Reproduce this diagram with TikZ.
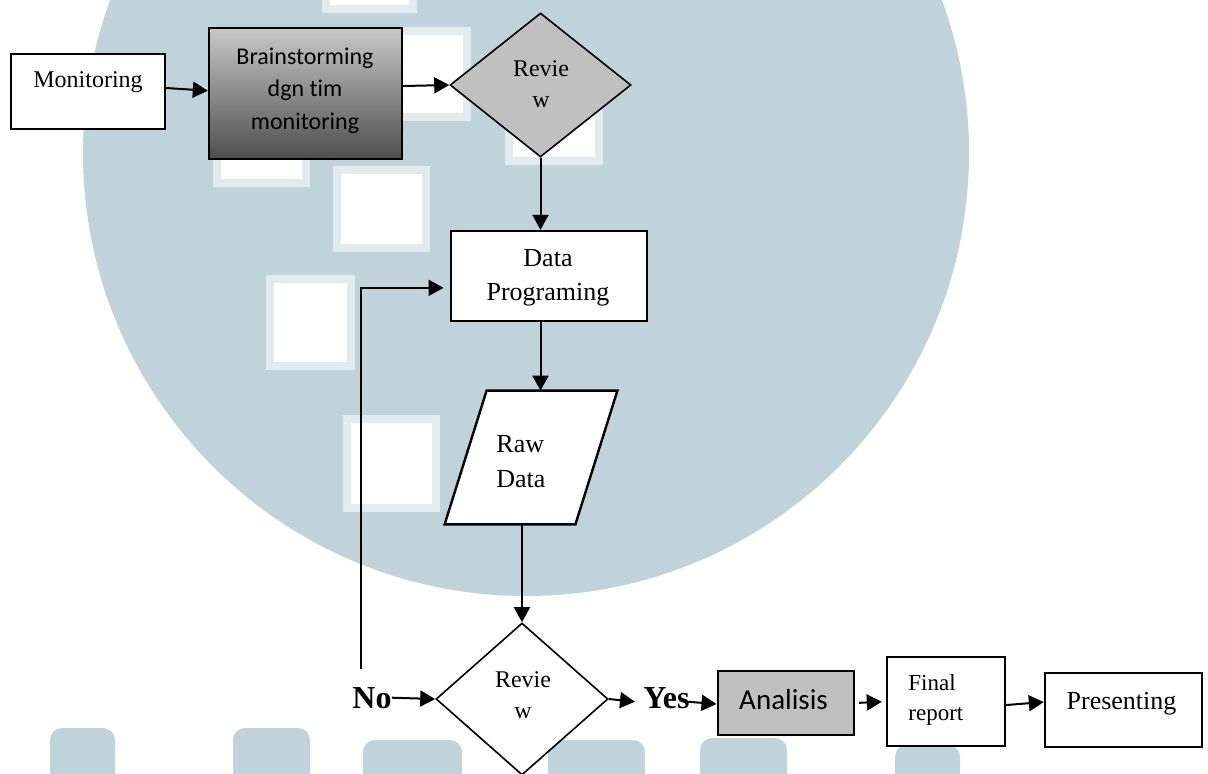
\documentclass[tikz,border=0pt]{standalone}
\usepackage{fontspec}
\setmainfont{Liberation Serif}
\newfontfamily\calfont[Ligatures=NoCommon]{Carlito}
\usetikzlibrary{shapes.geometric,arrows.meta}
\definecolor{wm}{RGB}{193,211,218}
\definecolor{wmedge}{RGB}{226,236,240}
\definecolor{boxgray}{RGB}{192,192,192}
\definecolor{gtop}{RGB}{200,200,200}
\definecolor{gbot}{RGB}{78,78,78}
\begin{document}
\begin{tikzpicture}[x=0.5pt,y=-0.5pt,
  box/.style={draw, line width=1.2pt, rectangle, inner sep=0pt},
  dia/.style={draw, line width=0.8pt, diamond, inner sep=0pt},
  conn/.style={line width=1pt, -{Triangle[length=7.5pt,width=8pt]}},
  tms/.style={anchor=base, inner sep=0pt, font=\fontsize{12}{14}\selectfont},
  tmsl/.style={anchor=base, inner sep=0pt, font=\fontsize{13}{15}\selectfont},
  tmsf/.style={anchor=base west, inner sep=0pt, font=\fontsize{11.5}{13}\selectfont},
  cal/.style={anchor=base, inner sep=0pt, font=\calfont\fontsize{12}{14}\selectfont},
  lbl/.style={anchor=base west, inner sep=0pt, font=\bfseries\fontsize{16}{18}\selectfont},
  sq/.style={fill=wmedge},
  sqin/.style={fill=white},
  blob/.style={fill=wm, rounded corners=6pt}
]
\useasboundingbox (0,0) rectangle (1208,773);
\fill[white] (0,0) rectangle (1208,773);
% watermark
\begin{scope}
\clip (0,0) rectangle (1208,773);
\fill[wm] (526,153) circle [radius=443];
\foreach \a/\b/\c/\d in {322/-10/417/13, 385/27/471/121, 505/108/603/165, 213/140/310/187, 333/166/430/252, 266/275/355/370, 343/415/440/512}{
  \fill[sq] (\a,\b) rectangle (\c,\d);
  \fill[sqin] (\a+8,\b+8) rectangle (\c-8,\d-8);
}
\foreach \a/\b/\c in {50/728/115, 233/728/310, 363/740/462, 548/740/645, 700/738/787, 895/745/960}{
  \fill[blob] (\a,\b) rectangle (\c,790);
}
\end{scope}
% nodes
\node[box, fill=white, minimum width=77.15pt, minimum height=37.5pt] (mon) at (87.85,91.5) {};
\node[tms] (tmon) at (88,87) {Monitoring};

\node[box, top color=gtop, bottom color=gbot, minimum width=96.5pt, minimum height=65.5pt] (brain) at (305.5,93.5) {};
\node[cal] (tb1) at (305,64) {Brainstorming};
\node[cal] (tb2) at (305,96) {dgn tim};
\node[cal] (tb3) at (305,129) {monitoring};

\node[dia, fill=boxgray, minimum width=90.5pt, minimum height=72pt] (rev1) at (540.5,85) {};
\node[tms] (tr1a) at (541,76) {Revie};
\node[tms] (tr1b) at (541,107) {w};

\node[box, fill=white, minimum width=98pt, minimum height=44.85pt] (dp) at (548.7,275.85) {};
\node[tmsl] (tdp1) at (548,266) {Data};
\node[tmsl] (tdp2) at (548,300) {Programing};

\node[rectangle, inner sep=0pt, minimum width=86pt, minimum height=66.5pt] (raw) at (531,457.5) {};
\draw[line width=1.2pt, fill=white, line join=miter] ([xshift=21pt]raw.north west) -- (raw.north east) -- ([xshift=-21pt]raw.south east) -- (raw.south west) -- cycle;
\node[tmsl, anchor=base west] (traw1) at (496,452) {Raw};
\node[tmsl, anchor=base west] (traw2) at (496,487) {Data};

\node[dia, fill=white, minimum width=86pt, minimum height=76pt] (rev2) at (522,699) {};
\node[tms] (tr2a) at (523,687) {Revie};
\node[tms] (tr2b) at (523,718) {w};

\node[lbl] (no) at (352,708) {No};
\node[lbl] (yes) at (643,708) {Yes};

\node[box, fill=boxgray, minimum width=68.15pt, minimum height=32pt] (ana) at (785.85,703) {};
\node[cal, font=\calfont\fontsize{14.5}{16}\selectfont] (tana) at (783.5,709) {Analisis};

\node[box, fill=white, minimum width=59pt, minimum height=44.5pt] (fin) at (946,701.5) {};
\node[tmsf] (tfin1) at (908,690) {Final};
\node[tmsf] (tfin2) at (908,720) {report};

\node[box, fill=white, minimum width=78.5pt, minimum height=37pt] (pres) at (1123.5,710) {};
\node[tmsl] (tpres) at (1121.5,709) {Presenting};

\coordinate (fb) at (361,669);

% connectors
\draw[conn] ([yshift=1.75pt]mon.east) -- ([yshift=1.4pt]brain.west);
\draw[conn] ([yshift=3.75pt]brain.east) -- (rev1.west);
\draw[conn] (rev1.south) -- (rev1.south |- dp.north);
\draw[conn] (rev1.south |- dp.south) -- (rev1.south |- raw.north);
\draw[conn] (rev2.north |- raw.south) -- (rev2.north);
\draw[line width=1pt, -{Triangle[length=7.5pt,width=8pt]}, shorten >=3pt] (fb) |- ([yshift=-6pt]dp.west);
\draw[conn] (no.east) -- (rev2.west);
\draw[conn] (rev2.east) -- ([xshift=-4pt,yshift=-2pt]yes.west);
\draw[conn] ([xshift=-1.5pt,yshift=-2pt]yes.east) -- ([yshift=-0.5pt]ana.west);
\draw[conn, shorten <=2pt, shorten >=2pt] (ana.east) -- (fin.west);
\draw[conn] ([yshift=-1.75pt]fin.east) -- ([yshift=4pt]pres.west);
\end{tikzpicture}
\end{document}
